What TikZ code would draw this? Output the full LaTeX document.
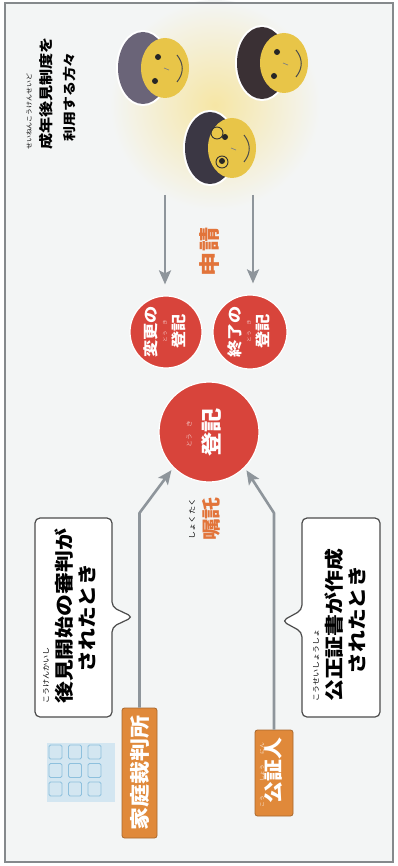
\documentclass[tikz,border=0pt]{standalone}
\usepackage{fontspec}
\usepackage{graphicx}
\usetikzlibrary{arrows.meta, calc}
\newfontfamily\jp{Noto Sans CJK JP}

\definecolor{paper}{HTML}{F3F5F5}
\definecolor{waku}{HTML}{85898C}
\definecolor{maru}{HTML}{D8443B}
\definecolor{daidai}{HTML}{E0893A}
\definecolor{shu}{HTML}{E2743A}
\definecolor{hai}{HTML}{8E959B}
\definecolor{hada}{HTML}{E8C548}
\definecolor{sora}{HTML}{D3E6F1}
\definecolor{mado}{HTML}{8EC0DD}
\definecolor{kamiA}{HTML}{6A6478}
\definecolor{kamiB}{HTML}{3A3034}
\definecolor{kamiC}{HTML}{3B3744}

% text set sideways, slightly drawn out along the line
\newcommand{\tate}[1]{\rotatebox{90}{\scalebox{1.15}[1]{#1}}}
\newcommand{\fsz}[1]{\fontsize{#1}{#1}\selectfont}

\tikzset{
  pics/kao/.style={code={
    \fill[white] (-22,0) ellipse [x radius=27, y radius=38];
    \fill[#1] (-22,0) ellipse [x radius=25, y radius=36];
    \fill[hada] (0,0) ellipse [x radius=24, y radius=30];
    \fill[black!85] (-7,-11) circle [radius=3] (-10,13) circle [radius=3];
    \draw[black!70, line width=1pt] (12,-13) .. controls (19,-4) and (19,5) .. (12,14);
    \draw[black!50, line width=0.7pt] (-1,0) -- (4,2);
  }},
}

\begin{document}
\begin{tikzpicture}[x=1pt, y=-1pt,
  dot/.style={circle, fill=maru, draw=white, line width=1.2pt, inner sep=0pt},
  tag/.style={rectangle, rounded corners=2.5pt, fill=daidai, draw=daidai!75!black,
    line width=0.8pt, inner sep=0pt, text=white, font=\jp\bfseries},
  flow/.style={draw=hai, line width=2.6pt, line join=round,
    -{Stealth[length=14pt, width=12pt, inset=3pt]}},
  bubble/.style={draw=black!70, fill=white, line width=1.2pt, rounded corners=5pt},
  txt/.style={inner sep=0pt, font=\jp\bfseries},
  ruby/.style={inner sep=0pt, font=\jp}]

  \useasboundingbox (0,0) rectangle (398,866);
  \fill[white] (0,0) rectangle (398,866);
  \fill[paper] (5,3) rectangle (393,862);
  \shade[inner color={rgb,255:red,246;green,230;blue,165}, outer color=paper]
    (215,105) circle [radius=105];
  \draw[waku, line width=1.6pt] (5,3) rectangle (393,862);

  % people using the system
  \node[ruby, anchor=south] (t-ruby) at (29,150) {\tate{\fsz{6}せいねんこうけんせいど}};
  \node[txt, anchor=south] (t-l1) at (46,150) {\tate{\fsz{14}成年後見制度を}};
  \node[txt, anchor=south] (t-l2) at (70,142) {\tate{\fsz{13}利用する方々}};

  \pic at (165,68) {kao=kamiA};
  \pic at (284,63) {kao=kamiB};
  \pic at (232,148) {kao=kamiC};
  % glasses
  \draw[black!80, line width=0.9pt] (217,133) circle [radius=6] (222,162) circle [radius=6];

  % registrations
  \node[dot, minimum size=72pt] (henko) at (166,332) {};
  \node[dot, minimum size=74pt] (shuryo) at (250,332) {};
  \node[dot, minimum size=100pt] (toki) at (209,432) {};

  \node[txt, text=white] (henko-a) at (151,332) {\tate{\fsz{15}変更の}};
  \node[ruby, text=maru!35!white] (henko-r) at (165,331) {\tate{\fsz{5}とう　き}};
  \node[txt, text=white] (henko-b) at (179,331) {\tate{\fsz{15}登記}};
  \node[txt, text=white] (shuryo-a) at (235,332) {\tate{\fsz{15}終了の}};
  \node[ruby, text=maru!35!white] (shuryo-r) at (249,331) {\tate{\fsz{5}とう　き}};
  \node[txt, text=white] (shuryo-b) at (263,331) {\tate{\fsz{15}登記}};
  \node[ruby, text=maru!35!white] (toki-r) at (189,434) {\tate{\fsz{6}とう　き}};
  \node[txt, text=white] (toki-b) at (211,432) {\tate{\fsz{21}登記}};

  \node[txt, text=shu] (shinsei) at (210,252) {\tate{\fsz{21}申請}};
  \node[ruby] (shokutaku-r) at (192,519) {\tate{\fsz{7}しょくたく}};
  \node[txt, text=shu] (shokutaku) at (211,519) {\tate{\fsz{19}嘱託}};

  % family court and notary
  \fill[sora] (47,743) rectangle (115,802);
  \foreach \i in {0,1,2}
    \foreach \j in {0,1,2}
      \draw[mado, rounded corners=1.5pt, line width=0.8pt]
        (49+\i*19.5, 745+\j*18.5) rectangle ++(13,14);

  \node[tag, minimum width=35pt, minimum height=130pt] (court) at (139.5,773)
    {\tate{\fsz{20}家庭裁判所}};
  \node[tag, minimum width=38pt, minimum height=86pt] (notary) at (274,773)
    {\tate{\fsz{19}\hspace*{4pt}公証人}};
  \node[ruby, text=white!80!daidai] (notary-r) at (262,775)
    {\tate{\fsz{5}こう\hspace{12pt}しょう\hspace{9pt}にん}};

  % speech bubbles
  \draw[bubble] (112,607) -- (133,617) -- (112,627) -- (112,717) -- (35,717)
    -- (35,518) -- (112,518) -- cycle;
  \draw[bubble] (302,632) -- (282,621) -- (302,610) -- (302,518) -- (380,518)
    -- (380,717) -- (302,717) -- cycle;

  \node[ruby, anchor=south] (k-ruby) at (46,704) {\tate{\fsz{7}こうけんかいし}};
  \node[txt, anchor=south] (k-l1) at (64,704) {\tate{\fsz{19}後見開始の審判が}};
  \node[txt] (k-l2) at (87,618) {\tate{\fsz{19}されたとき}};

  \node[ruby, anchor=south] (n-ruby) at (316,702) {\tate{\fsz{7}こうせいしょうしょ}};
  \node[txt, anchor=south] (n-l1) at (334,702) {\tate{\fsz{19}公正証書が作成}};
  \node[txt] (n-l2) at (357,620) {\tate{\fsz{19}されたとき}};

  % arrows
  \coordinate (yobi1) at (165,195);
  \coordinate (yobi2) at (253,195);
  \coordinate (kbend) at (139.5,513);
  \coordinate (nbend) at (274,513);

  \draw[flow, shorten >=11pt] (yobi1) -- (yobi1 |- henko.north);
  \draw[flow, shorten >=11pt] (yobi2) -- (yobi2 |- shuryo.north);
  \draw[flow, shorten >=3pt] (court.north) -- (kbend) -- (toki.225);
  \draw[flow, shorten >=3pt] (notary.north) -- (nbend) -- (toki.315);
\end{tikzpicture}
\end{document}
